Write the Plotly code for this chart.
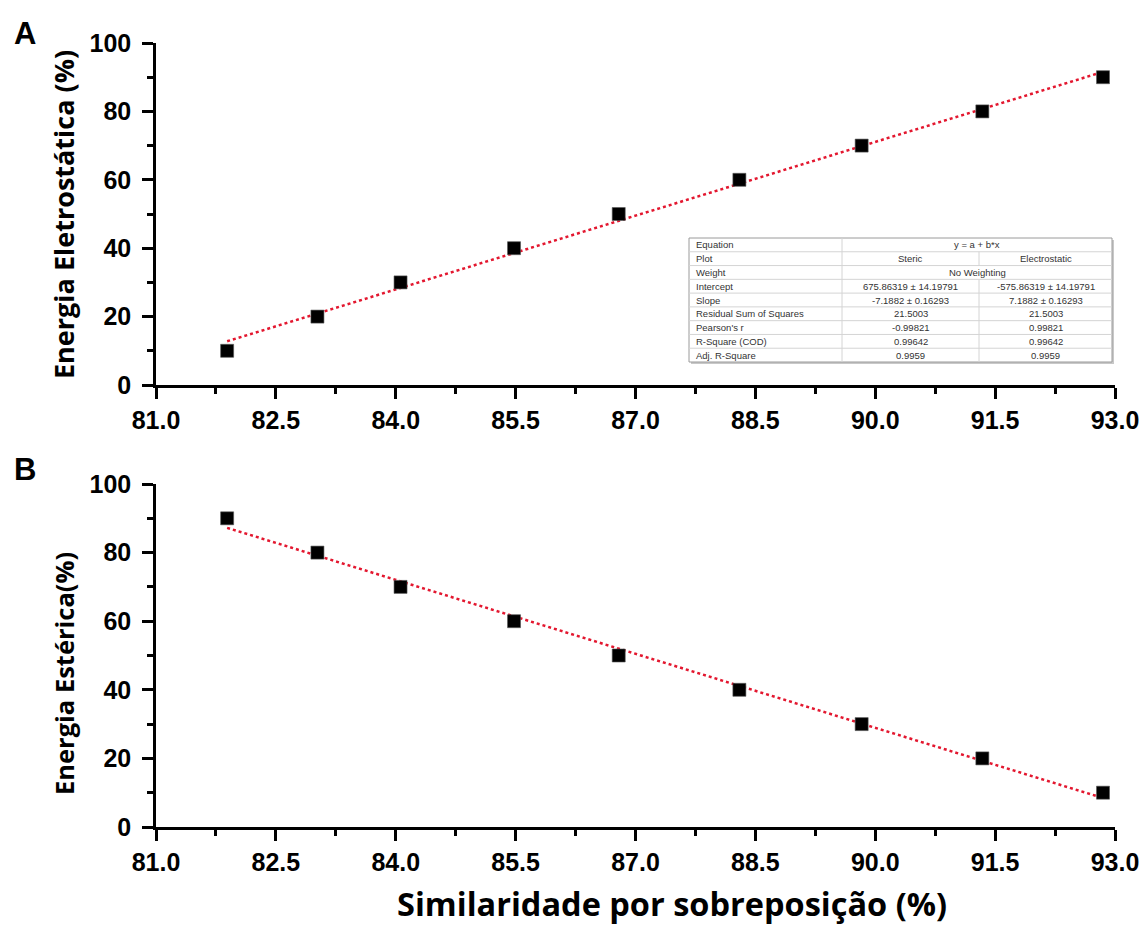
import plotly.graph_objects as go

# ---------------- data ----------------
similaridade = [81.89, 83.02, 84.06, 85.48, 86.79, 88.30, 89.83, 91.34, 92.85]
energia_eletrostatica = [10, 20, 30, 40, 50, 60, 70, 80, 90]
energia_esterica = [90, 80, 70, 60, 50, 40, 30, 20, 10]

intercept_steric = 675.86319
slope_steric = -7.1882
intercept_electro = -575.86319
slope_electro = 7.1882

x_tick_vals = [81.0, 82.5, 84.0, 85.5, 87.0, 88.5, 90.0, 91.5, 93.0]
x_tick_text = ["81.0", "82.5", "84.0", "85.5", "87.0", "88.5", "90.0", "91.5", "93.0"]
y_tick_vals = [0, 20, 40, 60, 80, 100]

table_labels = ["Equation", "Plot", "Weight", "Intercept", "Slope",
                "Residual Sum of Squares", "Pearson's r", "R-Square (COD)", "Adj. R-Square"]
table_steric = ["y = a + b*x", "Steric", "No Weighting", "675.86319 ± 14.19791",
                "-7.1882 ± 0.16293", "21.5003", "-0.99821", "0.99642", "0.9959"]
table_electro = [None, "Electrostatic", None, "-575.86319 ± 14.19791",
                 "7.1882 ± 0.16293", "21.5003", "0.99821", "0.99642", "0.9959"]

# ---------------- layout helpers ----------------
W, H = 1143, 926
def px(x):
    return x / W
def py(y):
    return 1 - y / H

X_LEFT, X_RIGHT = 156, 1115
A_TOP, A_BOT = 43, 385
B_TOP, B_BOT = 484, 827

RED = "#e3172f"
TICK_FONT = dict(family="Arial, Liberation Sans, sans-serif", size=25, color="black", weight="bold")
TITLE_FAMILY = "Open Sans, Lato, sans-serif"

fig = go.Figure()

def add_panel(xa, ya, yvals, a, b):
    xmin, xmax = min(similaridade), max(similaridade)
    fig.add_trace(go.Scatter(
        x=[xmin, xmax], y=[a + b * xmin, a + b * xmax],
        mode="lines", line=dict(color=RED, width=2.5, dash="dot"),
        xaxis=xa, yaxis=ya, showlegend=False, hoverinfo="skip"))
    fig.add_trace(go.Scatter(
        x=similaridade, y=yvals, mode="markers",
        marker=dict(symbol="square", size=13, color="black",
                    line=dict(color="#555555", width=0.6)),
        xaxis=xa, yaxis=ya, showlegend=False, cliponaxis=False))

add_panel("x", "y", energia_eletrostatica, intercept_electro, slope_electro)
add_panel("x2", "y2", energia_esterica, intercept_steric, slope_steric)

axis_common = dict(
    showline=True, linecolor="black", linewidth=2.5,
    ticks="outside", ticklen=11, tickwidth=2.5, tickcolor="black",
    showgrid=False, zeroline=False, tickfont=TICK_FONT,
    mirror=False, fixedrange=True, automargin=False)

xaxis_def = dict(axis_common, range=[81, 93], tickvals=x_tick_vals, ticktext=x_tick_text,
                 minor=dict(dtick=0.75, tick0=81, ticks="outside", ticklen=6,
                            tickwidth=2.5, tickcolor="black", showgrid=False),
                 ticklabelstandoff=0)
yaxis_def = dict(axis_common, range=[0, 100], tickvals=y_tick_vals,
                 minor=dict(dtick=10, tick0=0, ticks="outside", ticklen=6,
                            tickwidth=2.5, tickcolor="black", showgrid=False),
                 ticklabelstandoff=6)

fig.update_layout(
    width=W, height=H, autosize=False,
    margin=dict(l=0, r=0, t=0, b=0),
    paper_bgcolor="white", plot_bgcolor="white",
    xaxis=dict(xaxis_def, domain=[px(X_LEFT), px(X_RIGHT)], anchor="y"),
    yaxis=dict(yaxis_def, domain=[py(A_BOT), py(A_TOP)], anchor="x"),
    xaxis2=dict(xaxis_def, domain=[px(X_LEFT), px(X_RIGHT)], anchor="y2"),
    yaxis2=dict(yaxis_def, domain=[py(B_BOT), py(B_TOP)], anchor="x2"),
)

annotations = []
shapes = []

def label(text, x, y, size, family, angle=0):
    annotations.append(dict(text=text, x=px(x), y=py(y), xref="paper", yref="paper",
                            xanchor="center", yanchor="middle", showarrow=False,
                            textangle=angle, font=dict(family=family, size=size, color="black")))

# panel letters
label("<b>A</b>", 25, 34, 31, "Arial, Liberation Sans")
label("<b>B</b>", 25, 469, 31, "Arial, Liberation Sans")

# axis titles
label("<b>Energia Eletrostática (%)</b>", 64, 215, 27, TITLE_FAMILY, -90)
label("<b>Energia Estérica(%)</b>", 64, 674, 25.5, TITLE_FAMILY, -90)
label("<b>Similaridade por sobreposição (%)</b>", 672, 903, 32.5, TITLE_FAMILY)

# ---------------- statistics table ----------------
TL, TR, TT, TB = 689, 1112, 238, 362
C1, C2 = 842, 979
n_rows = len(table_labels)
rh = (TB - TT) / n_rows
tfont = dict(family="Arial, Liberation Sans, sans-serif", size=9.5, color="#333333")

shapes.append(dict(type="rect", xref="paper", yref="paper",
                   x0=px(TL + 2), x1=px(TR + 2), y0=py(TB + 2), y1=py(TT + 2),
                   line=dict(width=0), fillcolor="#c8c8c8", layer="above"))
shapes.append(dict(type="rect", xref="paper", yref="paper",
                   x0=px(TL), x1=px(TR), y0=py(TB), y1=py(TT),
                   line=dict(color="#9a9a9a", width=1), fillcolor="white", layer="above"))
for i in range(1, n_rows):
    yy = TT + i * rh
    shapes.append(dict(type="line", xref="paper", yref="paper",
                       x0=px(TL), x1=px(TR), y0=py(yy), y1=py(yy),
                       line=dict(color="#d4d4d4", width=1), layer="above"))
shapes.append(dict(type="line", xref="paper", yref="paper",
                   x0=px(C1), x1=px(C1), y0=py(TT), y1=py(TB),
                   line=dict(color="#d4d4d4", width=1), layer="above"))
for i, val in enumerate(table_electro):
    if val is not None:
        shapes.append(dict(type="line", xref="paper", yref="paper",
                           x0=px(C2), x1=px(C2), y0=py(TT + i * rh), y1=py(TT + (i + 1) * rh),
                           line=dict(color="#d4d4d4", width=1), layer="above"))

for i in range(n_rows):
    yc = TT + (i + 0.5) * rh
    annotations.append(dict(text=table_labels[i], x=px(TL + 5), y=py(yc), xref="paper", yref="paper",
                            xanchor="left", yanchor="middle", showarrow=False, font=tfont))
    if table_electro[i] is None:
        annotations.append(dict(text=table_steric[i], x=px((C1 + TR) / 2), y=py(yc),
                                xref="paper", yref="paper", xanchor="center", yanchor="middle",
                                showarrow=False, font=tfont))
    else:
        annotations.append(dict(text=table_steric[i], x=px((C1 + C2) / 2), y=py(yc),
                                xref="paper", yref="paper", xanchor="center", yanchor="middle",
                                showarrow=False, font=tfont))
        annotations.append(dict(text=table_electro[i], x=px((C2 + TR) / 2), y=py(yc),
                                xref="paper", yref="paper", xanchor="center", yanchor="middle",
                                showarrow=False, font=tfont))

fig.update_layout(annotations=annotations, shapes=shapes)

# remove the default page margin so the 1143x926 figure fills the window exactly
fig.write_html("out.html", config={"displayModeBar": False},
               post_script="document.body.style.margin='0';document.body.style.overflow='hidden';")
